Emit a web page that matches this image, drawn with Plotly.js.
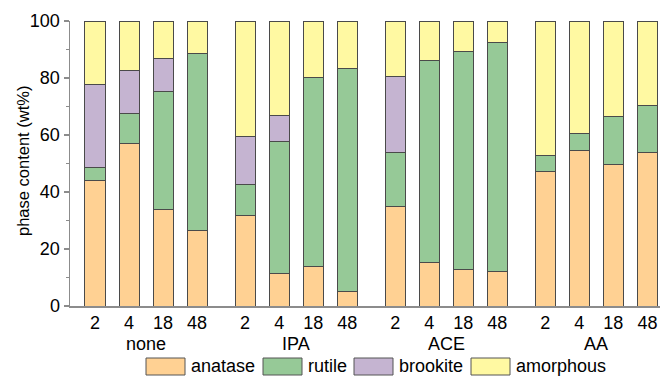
<!DOCTYPE html>
<html>
<head>
<meta charset="utf-8">
<script src="https://cdn.plot.ly/plotly-3.0.1.min.js"></script>
<style>html,body{margin:0;padding:0;background:#fff;}#chart{width:663px;height:376px;}</style>
</head>
<body>
<div id="chart"></div>
<script>
const groups = ["none", "IPA", "ACE", "AA"];
const times = ["2", "4", "18", "48"];
const seriesNames = ["anatase", "rutile", "brookite", "amorphous"];
const seriesColors = ["#FFD193", "#96C997", "#C5B4D1", "#FFF9A2"];
const yTitle = "phase content (wt%)";

// values per bar, order: none(2,4,18,48), IPA(...), ACE(...), AA(...)
const anatase   = [44.0, 57.0, 34.0, 26.5, 31.7, 11.3, 13.8, 5.0, 34.8, 15.3, 12.9, 12.2, 47.3, 54.5, 49.7, 53.7];
const rutile    = [4.7, 10.5, 41.3, 62.0, 11.0, 46.5, 66.3, 78.2, 19.0, 70.8, 76.5, 80.1, 5.6, 6.2, 16.7, 16.6];
const brookite  = [29.0, 15.3, 11.7, 0, 16.6, 9.2, 0, 0, 26.7, 0, 0, 0, 0, 0, 0, 0];
const amorphous = [22.3, 17.2, 13.0, 11.5, 40.7, 33.0, 19.9, 16.8, 19.5, 13.9, 10.6, 7.7, 47.1, 39.3, 33.6, 29.7];

const groupStep = 4.41;
const xpos = [], tickText = [];
groups.forEach((g, gi) => times.forEach((t, ti) => { xpos.push(gi * groupStep + ti); tickText.push(t); }));

const allSeries = [anatase, rutile, brookite, amorphous];
const traces = allSeries.map((vals, si) => ({
  type: "bar",
  x: xpos,
  y: vals,
  name: seriesNames[si],
  width: 0.59,
  marker: { color: seriesColors[si], line: { color: "#4a4a4a", width: 1 } },
  showlegend: false,
  hoverinfo: "y+name"
}));

const font = { family: "Liberation Sans, Arial, sans-serif", size: 18, color: "#000" };
const titleFont = { family: "Liberation Sans, Arial, sans-serif", size: 16.5, color: "#000" };
const PL = 70, PB = 306, PW = 590, PH = 285;
const annotations = groups.map((g, gi) => ({
  text: g, xref: "x", yref: "paper", x: gi * groupStep + 1.5, y: (PB - 344) / PH,
  showarrow: false, xanchor: "center", yanchor: "middle", font: font
}));
annotations.push({ text: yTitle, xref: "paper", yref: "paper", x: (23 - PL) / PW, y: (PB - 161) / PH,
  textangle: -90, showarrow: false, xanchor: "center", yanchor: "middle", font: titleFont });
const shapes = [];
// custom legend
const legendBoxX = [146, 263, 354, 471];
const legendBoxW = 39;
seriesNames.forEach((n, i) => {
  shapes.push({ type: "rect", xref: "paper", yref: "paper", x0: (legendBoxX[i] - PL) / PW, x1: (legendBoxX[i] + legendBoxW - PL) / PW,
    y0: (PB - 375) / PH, y1: (PB - 358) / PH, fillcolor: seriesColors[i], line: { color: "#555", width: 1 } });
  annotations.push({ text: n, xref: "paper", yref: "paper", x: (legendBoxX[i] + legendBoxW + 4 - PL) / PW, y: (PB - 366) / PH,
    showarrow: false, xanchor: "left", yanchor: "middle", font: font });
});

const layout = {
  width: 663, height: 376,
  margin: { l: PL, r: 3, t: 21, b: 70 },
  paper_bgcolor: "#fff", plot_bgcolor: "#fff",
  barmode: "stack",
  font: font,
  xaxis: {
    range: [-0.735, 16.6], tickvals: xpos, ticktext: tickText, showgrid: false, zeroline: false,
    showline: true, linecolor: "#8c8c8c", linewidth: 1.5, ticks: "", tickfont: font, fixedrange: true
  },
  yaxis: {
    range: [0, 100], tickvals: [0, 20, 40, 60, 80, 100], showgrid: false, zeroline: false,
    showline: true, linecolor: "#8c8c8c", linewidth: 1.5, ticks: "outside", ticklen: 5, tickcolor: "#8c8c8c", tickwidth: 1.5,
    minor: { ticks: "outside", ticklen: 3, tickcolor: "#8c8c8c", dtick: 10, tickwidth: 1.5 },
    tickfont: font
  },
  annotations: annotations,
  shapes: shapes,
  showlegend: false
};
Plotly.newPlot("chart", traces, layout, { displayModeBar: false, staticPlot: true });
</script>
</body>
</html>
